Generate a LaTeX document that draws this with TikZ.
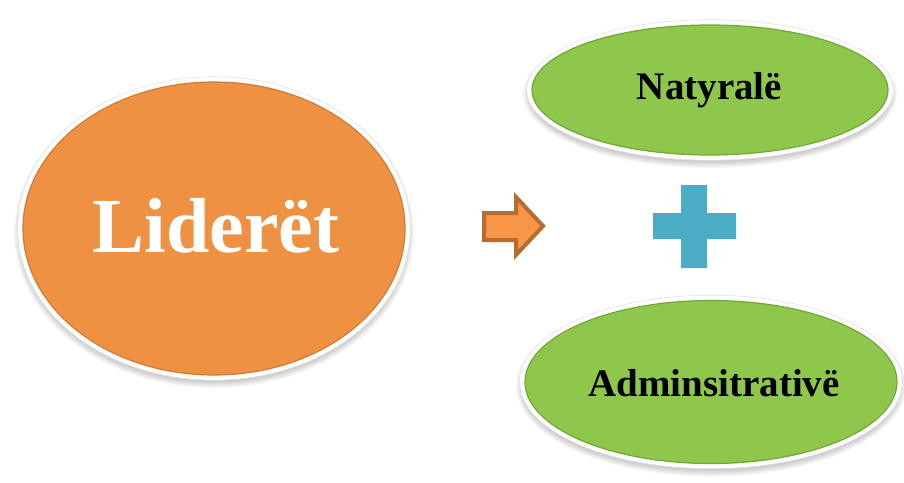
\documentclass[tikz,border=0pt]{standalone}
\usepackage{fontspec}
\setmainfont{Liberation Serif}
\usetikzlibrary{shapes.geometric,calc}
\definecolor{orfill}{HTML}{EF9142}
\definecolor{orrim}{HTML}{C06A25}
\definecolor{grfill}{HTML}{8EC74B}
\definecolor{grrim}{HTML}{5F9128}
\definecolor{arrfill}{HTML}{F79646}
\definecolor{arrline}{HTML}{B86C2F}
\definecolor{plusc}{HTML}{4BACC6}
\tikzset{
  oval/.style={ellipse, inner sep=0pt, line width=1.2pt},
  orangeoval/.style={oval, fill=orfill, draw=orrim!60!orfill,
    minimum width=382pt, minimum height=293pt},
  greenoval/.style={oval, fill=grfill, draw=grrim!60!grfill},
  bigtext/.style={anchor=base, text=white, inner sep=0pt,
    font=\bfseries\fontsize{78}{80}\selectfont},
  smalltext/.style={anchor=base, text=black, inner sep=0pt,
    font=\bfseries\fontsize{39}{41}\selectfont},
  arrowshape/.style={fill=arrfill, draw=arrline, line width=4pt, line join=miter},
  plusshape/.style={fill=plusc, draw=none},
}
\newcommand{\softoval}[3]{% center, rx, ry
  \foreach \k in {7,6,...,1}
    \fill[black, opacity=0.035] ($#1+(0,4)$) ellipse ({#2+\k*1.3pt} and {#3+\k*1.3pt});
  \fill[white] #1 ellipse ({#2+5pt} and {#3+5pt});
  \draw[black!10, line width=0.6pt] #1 ellipse ({#2+5.3pt} and {#3+5.3pt});
}
\begin{document}
\begin{tikzpicture}[x=1pt, y=-1pt]
\useasboundingbox[fill=white] (0,0) rectangle (904,482);

% left orange oval
\softoval{(214,228.5)}{191pt}{146.5pt}
\node[orangeoval] (lid) at (214,228.5) {};
\node[bigtext] (lidt) at (216,252) {Lider\"et};

% top green oval
\softoval{(710,90)}{178pt}{65pt}
\node[greenoval, minimum width=356pt, minimum height=130pt] (nat) at (710,90) {};
\node[smalltext] (natt) at (709.5,99) {Natyral\"e};

% bottom green oval
\softoval{(711,382)}{186pt}{81.5pt}
\node[greenoval, minimum width=372pt, minimum height=163pt] (adm) at (711,382) {};
\node[smalltext] (admt) at (714,396) {Adminsitrativ\"e};

% arrow
\draw[arrowshape] (484,213) -- (516,213) -- (516,197) -- (543,226)
  -- (516,255) -- (516,240) -- (484,240) -- cycle;

% plus sign
\fill[plusshape] (681,185) -- (707,185) -- (707,213) -- (736,213) -- (736,239)
  -- (707,239) -- (707,268) -- (681,268) -- (681,239) -- (653,239)
  -- (653,213) -- (681,213) -- cycle;
\end{tikzpicture}
\end{document}
